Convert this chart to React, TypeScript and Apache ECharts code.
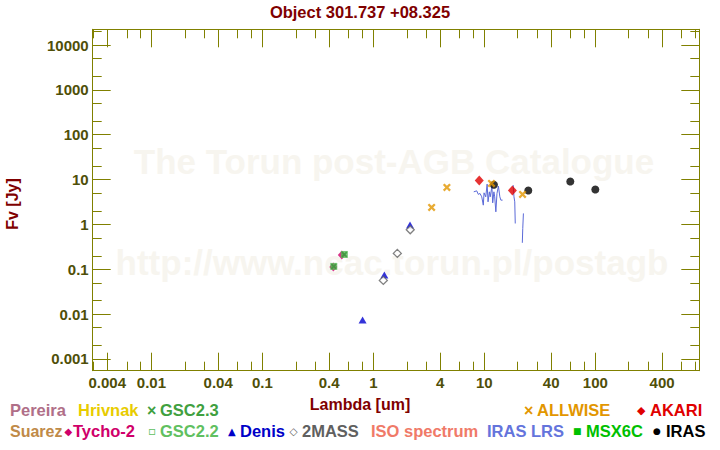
import React, { useEffect, useRef } from "react";
import * as echarts from "echarts";

// ---- data (wavelength in um, flux in Jy) ----
const akari = [[9.0, 9.57], [17.9, 5.73]];
const allwise = [[3.35, 2.39], [4.6, 6.68], [11.6, 8.2], [22.1, 4.66]];
const iras = [[12.2, 7.64], [24.9, 5.73], [59.5, 9.09], [100, 6.03]];
const denis = [[0.8, 0.0074], [1.256, 0.0741], [2.14, 0.965]];
const twomass = [[1.23, 0.0565], [1.645, 0.226], [2.15, 0.758]];
const tycho2 = [[0.436, 0.112], [0.52, 0.207]];
const gsc22 = [[0.44, 0.116], [0.548, 0.214]];
const gsc23 = [[0.44, 0.116], [0.548, 0.214]];
const lrsSeg1 = [
  [8.03, 5.33], [8.54, 5.61], [8.83, 4.67], [9.14, 4.91], [9.48, 4.12], [9.79, 2.69],
  [9.94, 5.06], [10.3, 4.12], [10.6, 7.91], [10.8, 3.19], [11.1, 5.33], [11.3, 4.12],
  [11.7, 6.89], [11.9, 3.03], [12.2, 5.33], [12.4, 4.12], [12.7, 1.91], [13.0, 4.91],
  [13.4, 7.14], [13.8, 4.12], [14.1, 3.48], [14.6, 3.48],
];
const lrsSeg2 = [[18.2, 7.52], [18.5, 4.12], [18.8, 3.19], [19.0, 1.05]];
const lrsSeg3 = [[22.5, 1.76], [22.2, 0.81], [22.0, 0.389]];

const xLabels = [0.004, 0.01, 0.04, 0.1, 0.4, 1, 4, 10, 40, 100, 400];
const xMinorTicks = [0.003, 0.006, 0.008, 0.02, 0.03, 0.06, 0.08, 0.2, 0.3, 0.6, 0.8, 2, 3, 6, 8, 20, 30, 60, 80, 200, 300, 600, 800];
const yLabels = [0.001, 0.01, 0.1, 1, 10, 100, 1000, 10000];
const yMinorTicks = [0.002, 0.005, 0.02, 0.05, 0.2, 0.5, 2, 5, 20, 50, 200, 500, 2000, 5000, 20000];

const X_MIN = 0.00296;
const X_MAX = 865;
const Y_MIN = 0.000548;
const Y_MAX = 22400;

const OLIVE = "#808000";
const LABEL_COLOR = "#4f4f08";
const DARK_RED = "#800000";
const FONT = "Liberation Sans, Arial, sans-serif";

const fmt = (v: any) => String(parseFloat(Number(v).toPrecision(4)));

function makeAxis(kind: "x" | "y", position: string, ticks: number[], len: number, labels: number[] | null, line: boolean) {
  return {
    type: "log",
    logBase: 10,
    position,
    min: kind === "x" ? X_MIN : Y_MIN,
    max: kind === "x" ? X_MAX : Y_MAX,
    splitLine: { show: false },
    axisLine: { show: line, onZero: false, lineStyle: { color: OLIVE, width: 1 } },
    axisTick: { show: true, inside: true, length: len, customValues: ticks, lineStyle: { color: OLIVE, width: 1 } },
    axisLabel: labels
      ? {
          show: true,
          customValues: labels,
          formatter: fmt,
          color: LABEL_COLOR,
          fontWeight: "bold",
          fontSize: 15,
          fontFamily: FONT,
          margin: 4,
        }
      : { show: false },
  };
}

const cross = "path://M0,2L2,0L5,3L8,0L10,2L7,5L10,8L8,10L5,7L2,10L0,8L3,5Z";

function txt(text: string, x: number, y: number, fill: string, size = 16, align = "left", family = FONT, extra: any = {}) {
  return {
    type: "text",
    x,
    y,
    silent: true,
    ...extra,
    style: {
      text,
      fill,
      font: `bold ${size}px ${family}`,
      align,
      verticalAlign: "middle",
      textAlign: align,
      textVerticalAlign: "middle",
    },
  };
}

export default function App() {
  const ref = useRef<HTMLDivElement>(null);
  useEffect(() => {
    if (!ref.current) return;
    const chart = echarts.init(ref.current, undefined, { renderer: "svg" });
    const SYM = "DejaVu Sans, sans-serif";
    const option: any = {
      animation: false,
      backgroundColor: "#ffffff",
      grid: { left: 92.7, top: 29.3, right: 20.7, bottom: 79.3, containLabel: false, outerBoundsMode: "none" },
      xAxis: [
        makeAxis("x", "bottom", xLabels, 18, xLabels, true),
        makeAxis("x", "bottom", xMinorTicks, 9, null, false),
        makeAxis("x", "top", xLabels, 18, null, true),
        makeAxis("x", "top", xMinorTicks, 9, null, false),
      ],
      yAxis: [
        makeAxis("y", "left", yLabels, 18, yLabels, true),
        makeAxis("y", "left", yMinorTicks, 9, null, false),
        makeAxis("y", "right", yLabels, 18, null, true),
        makeAxis("y", "right", yMinorTicks, 9, null, false),
      ],
      graphic: [
        txt("The Torun post-AGB Catalogue", 394, 161, "#f7f5ef", 35, "center"),
        txt("http://www.ncac.torun.pl/postagb", 392, 262, "#f7f5ef", 35, "center"),
        txt("Object 301.737 +08.325", 360, 12, DARK_RED, 16.5, "center"),
        txt("Lambda [um]", 360, 404, DARK_RED, 16, "center"),
        txt("Fv [Jy]", 12, 204, DARK_RED, 16, "center", FONT, { rotation: Math.PI / 2 }),
        // legend row 1
        txt("Pereira", 10, 410, "#b06f88", 16.5),
        txt("Hrivnak", 78, 410, "#e8cc00", 16.5),
        txt("×", 147, 410, "#40a040", 16, "left"),
        txt("GSC2.3", 160, 410, "#40a040", 16.5),
        txt("×", 524, 410, "#e29600", 16, "left"),
        txt("ALLWISE", 537, 410, "#e29600", 16.5),
        txt("◆", 637, 410, "#e00000", 11, "left", SYM),
        txt("AKARI", 650, 410, "#e00000", 16.5),
        // legend row 2
        txt("Suarez", 10, 431, "#c08a48", 16),
        txt("◆", 64.5, 431, "#d0006a", 10, "left", SYM),
        txt("Tycho-2", 73, 431, "#d0006a", 16.5),
        txt("▫", 148, 431, "#60c060", 12, "left", SYM),
        txt("GSC2.2", 160, 431, "#60c060", 16.5),
        txt("▲", 228, 431, "#0000c8", 10, "left", SYM),
        txt("Denis", 240, 431, "#0000c8", 16.5),
        txt("◇", 289.5, 431, "#606060", 10.5, "left", SYM),
        txt("2MASS", 302, 431, "#606060", 16.5),
        txt("ISO spectrum", 371, 431, "#f07a68", 16.5),
        txt("IRAS LRS", 487, 431, "#6474dc", 16.5),
        txt("■", 573, 431, "#00c000", 9, "left", SYM),
        txt("MSX6C", 586, 431, "#00c000", 16.5),
        txt("●", 653, 431, "#000000", 9, "left", SYM),
        txt("IRAS", 666, 431, "#000000", 16.5),
      ],
      series: [
        ...[lrsSeg1, lrsSeg2, lrsSeg3].map((d) => ({
          type: "line",
          data: d,
          showSymbol: false,
          symbol: "none",
          lineStyle: { color: "#5b6ad8", width: 1 },
          z: 2,
        })),
        { type: "scatter", data: tycho2, symbol: "diamond", symbolSize: [8, 9], itemStyle: { color: "#d0006a" }, z: 3 },
        { type: "scatter", data: gsc22, symbol: "rect", symbolSize: 7, itemStyle: { color: "#56b856" }, z: 4 },
        { type: "scatter", data: gsc23, symbol: cross, symbolSize: 6, itemStyle: { color: "#3a963a" }, z: 5 },
        { type: "scatter", data: denis, symbol: "triangle", symbolSize: [8, 7], itemStyle: { color: "#0000d0" }, z: 3 },
        {
          type: "scatter",
          data: twomass,
          symbol: "diamond",
          symbolSize: [8, 8],
          itemStyle: { color: "#ffffff", borderColor: "#606060", borderWidth: 1.3 },
          z: 4,
        },
        { type: "scatter", data: iras, symbol: "circle", symbolSize: 8, itemStyle: { color: "#000000" }, z: 3 },
        { type: "scatter", data: akari, symbol: "diamond", symbolSize: [9, 10], itemStyle: { color: "#e00000" }, z: 4 },
        { type: "scatter", data: allwise, symbol: cross, symbolSize: 8, itemStyle: { color: "#e29600" }, z: 5 },
      ],
    };
    chart.setOption(option);
    return () => chart.dispose();
  }, []);
  return <div ref={ref} style={{ position: "absolute", left: 0, top: 0, width: 720, height: 450 }} />;
}
